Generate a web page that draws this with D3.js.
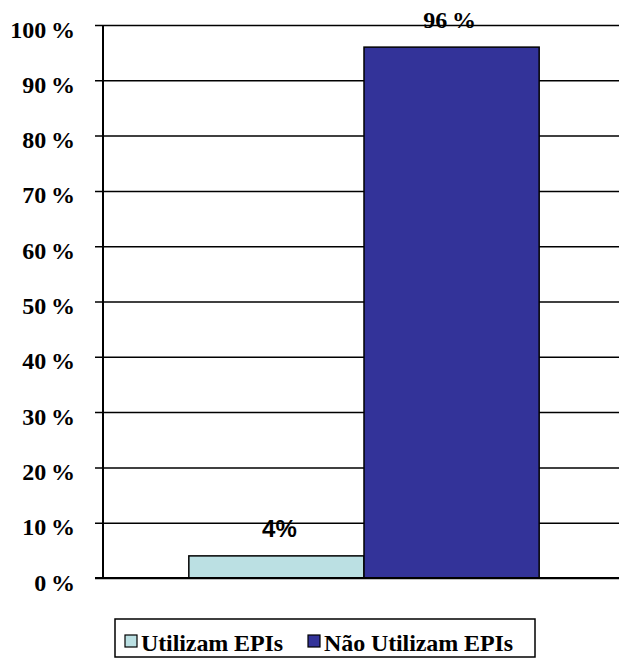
<!DOCTYPE html>
<html>
<head>
<meta charset="utf-8">
<script src="https://cdn.jsdelivr.net/npm/d3@7"></script>
<style>
  body { margin: 0; background: #fff; }
  svg { display: block; }
  .serif { font-family: "Liberation Serif", "Times New Roman", "DejaVu Serif", serif; font-weight: bold; }
  .sans { font-family: "Liberation Sans", Arial, sans-serif; font-weight: bold; }
</style>
</head>
<body>
<script>
// dados do gráfico
const categories = ["EPIs"];
const seriesNames = ["Utilizam EPIs", "Não Utilizam EPIs"];
const seriesValues = [4, 96];
const seriesColors = ["#BBE0E3", "#333399"];
const tickValues = [0, 10, 20, 30, 40, 50, 60, 70, 80, 90, 100];

const width = 619, height = 661;
const margin = { top: 25, right: 0, bottom: 83, left: 103 };

const svg = d3.select("body").append("svg")
    .attr("width", width)
    .attr("height", height);

const x = d3.scaleBand()
    .domain(categories)
    .range([margin.left, width + 6])
    .paddingOuter(0.245);

const xs = d3.scaleBand()
    .domain(seriesNames)
    .range([0, x.bandwidth()]);

const y = d3.scaleLinear()
    .domain([0, 100])
    .range([height - margin.bottom, margin.top]);

// linhas de grade + eixo y
const yAxis = d3.axisLeft(y)
    .tickValues(tickValues)
    .tickSize(-(width - margin.left + 8))
    .tickFormat(d => d + "\u2009%")
    .tickPadding(20);

const ga = svg.append("g")
    .attr("transform", `translate(${margin.left - 8},0)`)
    .call(yAxis);
ga.select(".domain").remove();
ga.selectAll(".tick line")
    .attr("stroke", "#000")
    .attr("stroke-width", 1.5);
ga.selectAll(".tick text")
    .attr("class", "serif")
    .attr("font-size", 24)
    .attr("dy", "0.5em")
    .attr("fill", "#000");

// barras
svg.append("g")
    .selectAll("rect")
    .data(seriesNames.map((s, i) => ({ name: s, value: seriesValues[i], color: seriesColors[i] })))
    .enter().append("rect")
    .attr("x", d => x(categories[0]) + xs(d.name))
    .attr("y", d => y(d.value))
    .attr("width", xs.bandwidth())
    .attr("height", d => y(0) - y(d.value))
    .attr("fill", d => d.color)
    .attr("stroke", "#000")
    .attr("stroke-width", 1.5);

// eixo vertical e linha de base
svg.append("line")
    .attr("x1", margin.left).attr("x2", margin.left)
    .attr("y1", y(100)).attr("y2", y(0))
    .attr("stroke", "#000").attr("stroke-width", 2);
svg.append("line")
    .attr("x1", margin.left - 8).attr("x2", width)
    .attr("y1", y(0)).attr("y2", y(0))
    .attr("stroke", "#000").attr("stroke-width", 2);

// rótulos
svg.append("text")
    .attr("class", "sans")
    .attr("x", x(categories[0]) + xs(seriesNames[0]) + xs.bandwidth() / 2 + 3)
    .attr("y", y(seriesValues[0]) - 19)
    .attr("text-anchor", "middle")
    .attr("font-size", 24)
    .text(seriesValues[0] + "%");

svg.append("text")
    .attr("class", "serif")
    .attr("x", x(categories[0]) + xs(seriesNames[1]) + xs.bandwidth() / 2 - 2)
    .attr("y", y(seriesValues[1]) - 19)
    .attr("text-anchor", "middle")
    .attr("font-size", 24)
    .text(seriesValues[1] + "\u2009%");

// legenda
const legend = svg.append("g");
legend.append("rect")
    .attr("x", 115).attr("y", 619)
    .attr("width", 420).attr("height", 38)
    .attr("fill", "#fff").attr("stroke", "#000").attr("stroke-width", 1.5);

const legendX = [125, 308];
seriesNames.forEach((s, i) => {
    legend.append("rect")
        .attr("x", legendX[i]).attr("y", 635)
        .attr("width", 12).attr("height", 12)
        .attr("fill", seriesColors[i])
        .attr("stroke", "#000").attr("stroke-width", 1.2);
    legend.append("text")
        .attr("class", "serif")
        .attr("x", legendX[i] + 16).attr("y", 651)
        .attr("font-size", 24)
        .attr("letter-spacing", -0.1)
        .text(s);
});
</script>
</body>
</html>
